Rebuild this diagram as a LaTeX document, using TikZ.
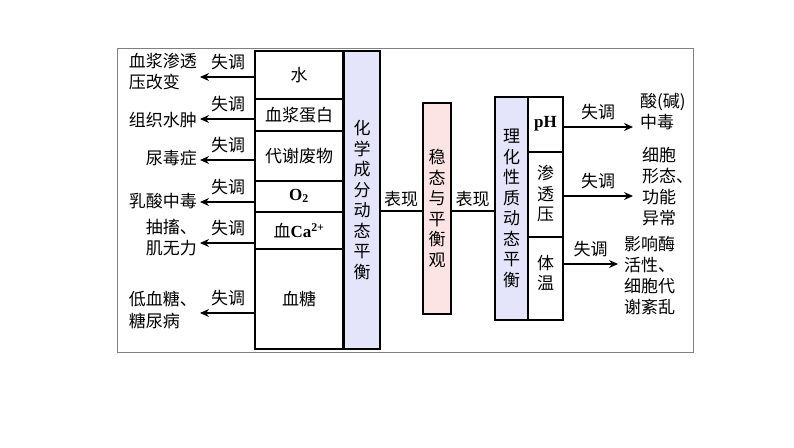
\documentclass[tikz,border=0pt]{standalone}
\usepackage{fontspec}
\setmainfont{Liberation Serif}
\newfontfamily\cjk{Noto Sans CJK SC}
\usetikzlibrary{arrows.meta}
\definecolor{lblue}{RGB}{228,228,250}
\definecolor{lpink}{RGB}{252,228,228}
\begin{document}
\begin{tikzpicture}[x=1pt,y=-1pt,
  box/.style={draw,line width=1.2pt},
  txt/.style={font=\cjk\fontsize{17}{20}\selectfont,inner sep=0pt,align=center},
  vtxt/.style={font=\cjk\fontsize{17}{20.5}\selectfont,inner sep=0pt,align=center,text width=18pt},
  ltxt/.style={font=\cjk\fontsize{17}{21}\selectfont,inner sep=0pt,align=left},
  arr/.style={-{Stealth[length=9pt,width=8pt]},line width=1.3pt}]
\useasboundingbox (0,0) rectangle (794,447);
\draw[gray,line width=1pt] (117,48) rectangle (693,352);
% left column
\draw[box] (255,51) rectangle (343,349);
\foreach \y in {99,131,181,212,249} \draw[line width=1.2pt] (255,\y)--(343,\y);
\node[txt] (w) at (299,75) {水};
\node[txt] (p) at (299,115) {血浆蛋白};
\node[txt] (m) at (299,156) {代谢废物};
\node[txt,font=\rmfamily\bfseries\fontsize{17}{20}\selectfont] (o) at (299,196) {O\textsubscript{2}};
\node[txt] (c) at (299,231) {血{\rmfamily\bfseries Ca\textsuperscript{2+}}};
\node[txt] (g) at (299,299) {血糖};
\node[box,fill=lblue,minimum width=36pt,minimum height=298pt,inner sep=0pt] (b1) at (362,200) {};
\node[vtxt] at (b1) {化\\学\\成\\分\\动\\态\\平\\衡};
\node[box,fill=lpink,minimum width=28pt,minimum height=211pt,inner sep=0pt] (pk) at (437,208.5) {};
\node[vtxt] at (pk) {稳\\态\\与\\平\\衡\\观};
\node[box,fill=lblue,minimum width=33pt,minimum height=223pt,inner sep=0pt] (b2) at (511.5,208.5) {};
\node[vtxt] at (b2) {理\\化\\性\\质\\动\\态\\平\\衡};
\draw[box] (528,97) rectangle (563,320);
\draw[line width=1.2pt] (528,152)--(563,152) (528,237)--(563,237);
\node[txt,font=\rmfamily\bfseries\fontsize{17}{20}\selectfont] at (545.5,124) {pH};
\node[vtxt] at (545.5,194) {渗\\透\\压};
\node[vtxt] at (545.5,273) {体\\温};
% connectors
\coordinate (l1) at (380,211); \coordinate (l2) at (451,211);
\draw[line width=1.2pt] (l1)--(l1-|pk.west) node[txt,midway,above=3pt] {表现};
\draw[line width=1.2pt] (l2)--(l2-|b2.west) node[txt,midway,above=3pt] {表现};
% left arrows
\foreach \y/\lab/\tx/\ty in {77/{血浆渗透\\压改变}/197/72, 119/{组织水肿}/197/120, 160/{尿毒症}/197/158, 202/{乳酸中毒}/197/201, 243/{抽搐、\\肌无力}/197/238, 313/{低血糖、\\糖尿病}/197/310}{
  \coordinate (s) at (255,\y); \coordinate (e) at (200,\y);
  \draw[arr] (s)--(e);
  \node[txt] at (228,\y-15) {失调};
  \node[ltxt,anchor=east] at (\tx,\ty) {\lab};
}
% right arrows
\foreach \y/\ex/\lab/\tx/\ty in {127/633/{酸(碱)\\中毒}/640/112, 196/633/{细胞\\形态、\\功能\\异常}/642/187, 264/618/{影响酶\\活性、\\细胞代\\谢紊乱}/624/275}{
  \coordinate (s) at (563,\y); \coordinate (e) at (\ex,\y);
  \draw[arr] (s)--(e);
  \node[txt] at (\ex/2+563/2,\y-15) {失调};
  \node[ltxt,anchor=west] at (\tx,\ty) {\lab};
}
\end{tikzpicture}
\end{document}
